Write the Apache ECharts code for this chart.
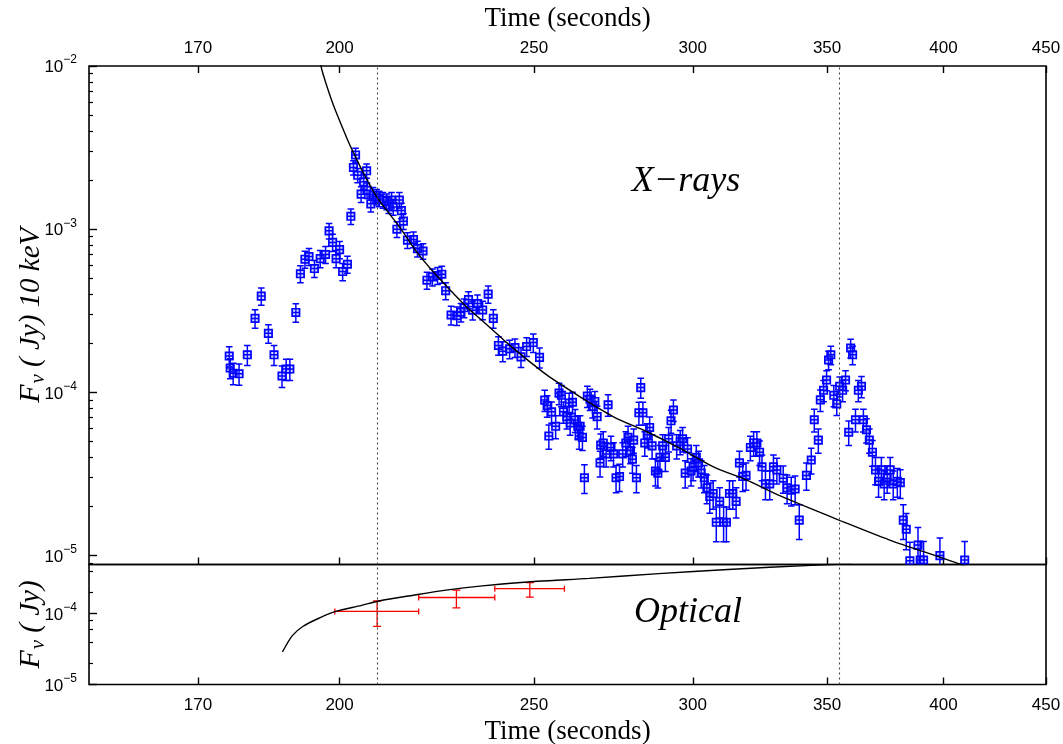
<!DOCTYPE html>
<html><head><meta charset="utf-8">
<script src="https://cdn.jsdelivr.net/npm/echarts@6/dist/echarts.min.js"></script>
<style>html,body{margin:0;padding:0;background:#fff}#c{width:1063px;height:744px}</style>
</head><body><div id="c"></div><script>
// ---------------- data ----------------
const xTickLabels = [170, 200, 250, 300, 350, 400, 450];
const xRange = [150, 450];
const xrayYRange = [8.82e-6, 1e-2];
const optYRange = [1e-5, 4.9e-4];
const xrayYLabels = [1e-5, 1e-4, 1e-3, 1e-2];
const optYLabels = [1e-5, 1e-4];
const markerTimes = [208.8, 356.8];

const xrayTime = [176.2,176.4,177.0,178.2,179.9,181.5,182.8,184.3,185.5,187.2,188.1,188.9,190.2,
191.2,192.2,193.1,194.3,195.6,196.8,197.6,198.4,199.2,200.0,200.7,201.8,
202.6,203.2,203.7,204.2,205.0,205.6,206.3,206.4,207.3,207.8,208.7,209.3,210.2,211.1,211.6,212.3,212.7,214.2,214.7,213.6,215.2,216.2,217.7,218.7,220.1,
221.1,222.5,223.8,224.9,225.9,227.3,228.8,229.9,230.7,231.9,233.0,234.3,235.7,237.2,238.6,240.0,241.2,243.1,244.6,246.3,247.9,249.8,251.6,
253.1,253.8,255.1,254.3,256.3,257.3,258.0,258.6,259.6,260.3,261.3,260.6,262.1,262.9,263.6,263.3,264.3,264.9,265.8,266.6,267.4,268.1,268.8,272.2,269.9,270.7,
269.7,271.6,273.1,273.9,274.7,275.8,276.8,277.8,278.5,279.3,279.9,280.3,281.2,282.6,282.0,283.3,283.9,284.7,285.5,286.3,287.4,288.2,288.9,289.8,290.7,
291.8,292.6,293.4,294.5,295.7,296.5,297.4,298.2,299.4,300.1,301.2,302.0,302.9,304.0,304.9,305.9,307.1,308.2,309.4,310.8,311.8,312.9,314.1,315.3,316.5,
317.7,318.9,320.5,321.7,322.9,323.9,324.8,326.1,327.7,329.1,330.4,
332.8,334.3,335.9,337.4,339.0,341.8,343.7,344.9,346.5,347.3,348.6,349.8,350.6,351.5,352.7,353.9,355.1,356.3,357.5,358.8,359.6,360.4,361.6,362.8,364.1,
364.9,366.2,367.4,368.7,370.0,371.3,372.5,373.7,375.0,376.3,377.6,379.4,380.7,382.0,383.3,384.9,388.5,389.5,391.0,398.4,409.9];
const xrayFlux = [1.67e-4,1.41e-4,1.31e-4,1.30e-4,1.70e-4,2.84e-4,3.89e-4,2.30e-4,1.70e-4,1.26e-4,1.39e-4,1.39e-4,3.09e-4,
5.33e-4,6.55e-4,6.8e-4,5.74e-4,6.6e-4,7.0e-4,9.77e-4,8.3e-4,6.6e-4,7.5e-4,5.5e-4,6.1e-4,
1.20e-3,2.39e-3,2.85e-3,2.14e-3,1.64e-3,1.95e-3,2.28e-3,1.73e-3,1.43e-3,1.62e-3,1.58e-3,1.54e-3,1.51e-3,1.48e-3,1.40e-3,1.51e-3,1.37e-3,1.51e-3,1.30e-3,1.0e-3,1.12e-3,8.57e-4,8.65e-4,7.6e-4,7.35e-4,
4.87e-4,5.1e-4,5.2e-4,5.3e-4,4.2e-4,2.98e-4,2.95e-4,3.1e-4,3.3e-4,3.7e-4,3.19e-4,3.5e-4,3.2e-4,4.0e-4,2.84e-4,1.94e-4,1.79e-4,1.85e-4,1.88e-4,1.65e-4,1.91e-4,2.02e-4,1.64e-4,
8.97e-5,8.3e-5,7.6e-5,5.4e-5,6.2e-5,9.9e-5,9.6e-5,7.6e-5,7.1e-5,8.6e-5,8.7e-5,6.5e-5,6.77e-5,6.2e-5,6.2e-5,5.4e-5,5.3e-5,3.0e-5,9.5e-5,9.1e-5,8.2e-5,8.8e-5,7.1e-5,8.4e-5,4.75e-5,4.9e-5,
3.7e-5,4.2e-5,4.6e-5,4.2e-5,3.0e-5,3.05e-5,4.2e-5,4.9e-5,5.3e-5,4.4e-5,3.9e-5,5.1e-5,3.0e-5,1.07e-4,7.5e-5,7.5e-5,4.9e-5,5.5e-5,6.1e-5,4.7e-5,3.3e-5,3.2e-5,4.0e-5,4.7e-5,4.0e-5,
5.2e-5,6.7e-5,7.8e-5,4.7e-5,5.0e-5,5.2e-5,3.2e-5,4.5e-5,3.3e-5,3.5e-5,4.0e-5,3.7e-5,3.2e-5,3.0e-5,2.6e-5,2.3e-5,2.4e-5,1.6e-5,2.15e-5,1.6e-5,1.6e-5,2.4e-5,2.4e-5,2.15e-5,3.7e-5,
3.05e-5,3.1e-5,4.6e-5,4.9e-5,4.9e-5,4.3e-5,3.5e-5,2.75e-5,2.75e-5,3.5e-5,3.35e-5,
2.98e-5,2.6e-5,2.52e-5,2.56e-5,1.65e-5,3.1e-5,3.85e-5,6.8e-5,5.1e-5,9.0e-5,1.03e-4,1.19e-4,1.58e-4,1.7e-4,9.6e-5,8.5e-5,1.09e-4,1.03e-4,1.19e-4,5.7e-5,1.87e-4,1.7e-4,6.8e-5,1.03e-4,1.09e-4,
6.8e-5,5.9e-5,5.1e-5,4.3e-5,3.35e-5,2.85e-5,3.35e-5,2.75e-5,2.98e-5,3.35e-5,2.75e-5,2.85e-5,2.8e-5,1.65e-5,1.45e-5,9.3e-6,1.16e-5,9.4e-6,9.4e-6,1.0e-5,9.4e-6];
// relative 1-sigma error, percent
const xrayErrPct = [14,14,15,15,14,13,12,13,14,15,15,15,13,
12,12,12,12,12,12,11,12,12,12,12,12,
11,10,10,10,11,10,10,11,11,11,11,11,11,11,11,11,11,11,11,11,11,11,11,11,11,
12,12,12,12,12,13,13,13,13,12,13,13,13,12,13,13,14,13,13,14,13,13,14,
15,15,15,17,16,15,15,15,16,15,15,16,16,16,16,17,17,20,15,15,15,15,16,15,17,17,
18,17,17,17,19,19,17,17,17,17,18,17,19,14,16,16,17,17,16,17,19,19,18,17,18,
17,16,15,17,17,17,19,17,19,18,18,18,19,19,20,21,20,24,21,24,24,20,20,21,18,
19,19,17,17,17,17,18,20,20,18,18,
19,20,20,20,24,19,18,16,17,15,15,14,13,13,15,15,14,15,14,17,13,13,16,15,15,
16,17,17,18,19,20,19,20,19,19,20,20,20,24,25,30,28,30,30,28,30];

const xrayModelTime = [195.5,196.2,197.8,199.1,202.0,203.2,205.5,208.7,214.4,218.5,222.7,227.1,231.4,235.9,240.5,244.2,253.7,263.6,273.9,284.6,295.7,307.2,319.2,331.7,356.6,375.8,407.7,415.0];
const xrayModelFlux = [1.07e-2,9.0e-3,6.6e-3,5.3e-3,3.45e-3,2.95e-3,2.22e-3,1.58e-3,1.02e-3,7.26e-4,5.48e-4,4.23e-4,3.34e-4,2.71e-4,2.19e-4,1.86e-4,1.28e-4,9.40e-5,7.09e-5,5.74e-5,4.54e-5,3.50e-5,2.90e-5,2.32e-5,1.61e-5,1.25e-5,8.86e-6,8.0e-6];

const optTime   = [208.8, 228.7, 248.8];
const optTimeLo = [198.9, 219.0, 239.0];
const optTimeHi = [219.0, 239.0, 258.9];
const optFlux   = [1.07e-4, 1.68e-4, 2.24e-4];
const optFluxLo = [6.6e-5, 1.20e-4, 1.70e-4];
const optFluxHi = [1.50e-4, 2.14e-4, 2.73e-4];

const optModelTime = [187.3,189.4,191.8,195.6,199.1,205.1,209.2,217.7,226.5,235.6,251.0,266.4,288.5,312.4,343.7,360.0];
const optModelFlux = [2.87e-5,4.85e-5,6.62e-5,8.75e-5,1.07e-4,1.30e-4,1.50e-4,1.81e-4,2.15e-4,2.45e-4,2.84e-4,3.12e-4,3.65e-4,4.17e-4,4.77e-4,5.0e-4];

// ---------------- build ----------------
const L = Math.log10;
const BLUE = '#0000ff', RED = '#ff0000';
const SANS = '"Liberation Sans", Arial, sans-serif';
const SERIF = '"Liberation Serif", "Times New Roman", serif';

const xrayData = xrayTime.map((t, i) => {
  const f = xrayFlux[i], e = f * xrayErrPct[i] / 100;
  return [L(t), L(f), L(f + e), L(Math.max(f - e, 1e-9))];
});
const optData = optTime.map((t, i) => [L(t), L(optFlux[i]), L(optTimeLo[i]), L(optTimeHi[i]), L(optFluxLo[i]), L(optFluxHi[i])]);
const xrayModel = xrayModelTime.map((t, i) => [L(t), L(xrayModelFlux[i])]);
const optModel = optModelTime.map((t, i) => [L(t), L(optModelFlux[i])]);

function minorValues(lo, hi, steps) {
  const out = [];
  for (let p = Math.floor(L(lo)); p <= Math.ceil(L(hi)); p++) {
    steps.forEach(k => { const v = k * Math.pow(10, p); if (v >= lo && v <= hi) out.push(L(v)); });
  }
  return out;
}

const xTickVals = xTickLabels.map(L);
const xMin = L(xRange[0]), xMax = L(xRange[1]);

function powLabel(v) {
  const p = Math.round(v);
  return '{m|10}{s|' + (p < 0 ? '\u2212' : '') + Math.abs(p) + '}';
}
const powRich = {
  m: { fontSize: 17, fontFamily: SANS, color: '#000', padding: [3, 0, 0, 0] },
  s: { fontSize: 12, fontFamily: SANS, color: '#000', padding: [0, 0, 12, 0] }
};

function xAxisBase(gridIndex, position, showLabel, margin) {
  return {
    type: 'value', gridIndex, position, min: xMin, max: xMax, nameMoveOverlap: false,
    axisLine: { show: false }, splitLine: { show: false },
    axisTick: { show: true, inside: true, length: 7, customValues: xTickVals, lineStyle: { color: '#000', width: 1.4 } },
    axisLabel: {
      show: showLabel, customValues: xTickVals, margin: margin || 9,
      formatter: v => String(Math.round(Math.pow(10, v))),
      fontSize: 17, fontFamily: SANS, color: '#000'
    }
  };
}

const xAxes = [
  Object.assign(xAxisBase(0, 'top', true, 9), {
    name: 'Time (seconds)', nameLocation: 'middle', nameGap: 34,
    nameTextStyle: { fontSize: 27, fontFamily: SERIF, color: '#000' }
  }),
  xAxisBase(0, 'bottom', false),
  Object.assign(xAxisBase(1, 'bottom', true, 12), {
    name: 'Time (seconds)', nameLocation: 'middle', nameGap: 34,
    nameTextStyle: { fontSize: 27, fontFamily: SERIF, color: '#000' }
  })
];

function yMajor(gridIndex, range, labels, name, gap) {
  const vals = labels.map(L);
  return {
    type: 'value', gridIndex, position: 'left', min: L(range[0]), max: L(range[1]),
    axisLine: { show: false }, splitLine: { show: false },
    axisTick: { show: true, inside: true, length: 8, customValues: vals, lineStyle: { color: '#000', width: 1.4 } },
    axisLabel: { show: true, customValues: vals, margin: 12, formatter: powLabel, rich: powRich },
    name, nameLocation: 'middle', nameGap: gap, nameRotate: 90, nameMoveOverlap: false,
    nameTextStyle: {
      rich: {
        F: { fontSize: 30, fontFamily: SERIF, fontStyle: 'italic', color: '#000' },
        nu: { fontSize: 21, fontFamily: SERIF, fontStyle: 'italic', color: '#000', padding: [14, 0, 0, 1] },
        t: { fontSize: 29, fontFamily: SERIF, fontStyle: 'italic', color: '#000' }
      }
    }
  };
}
function yMinor(gridIndex, range, steps) {
  const vals = minorValues(range[0], range[1], steps);
  return {
    type: 'value', gridIndex, position: 'left', min: L(range[0]), max: L(range[1]),
    axisLine: { show: false }, splitLine: { show: false }, axisLabel: { show: false },
    axisTick: { show: true, inside: true, length: 4, customValues: vals, lineStyle: { color: '#000', width: 1.2 } }
  };
}

const yAxes = [
  yMajor(0, xrayYRange, xrayYLabels, '{F|F}{nu|\u03bd}{t| ( Jy) 10 keV}', 40),
  yMinor(0, xrayYRange, [2, 3, 4, 5, 6, 7, 8, 9]),
  yMajor(1, optYRange, optYLabels, '{F|F}{nu|\u03bd}{t| ( Jy)}', 40),
  yMinor(1, optYRange, [2, 4, 6, 8])
];

const markLine = {
  silent: true, symbol: ['none', 'none'], animation: false,
  label: { show: false },
  lineStyle: { type: [2, 3], color: '#444', width: 1.1 },
  data: markerTimes.map(t => ({ xAxis: L(t) }))
};

function renderXray(params, api) {
  const x = api.value(0);
  const c = api.coord([x, api.value(1)]);
  const ch = api.coord([x, api.value(2)]);
  const cl = api.coord([x, api.value(3)]);
  const s = 3.7, cap = 3.3;
  const st = { stroke: BLUE, lineWidth: 1.5, fill: null };
  return {
    type: 'group', children: [
      { type: 'line', shape: { x1: c[0], y1: cl[1], x2: c[0], y2: ch[1] }, style: st },
      { type: 'line', shape: { x1: c[0] - cap, y1: ch[1], x2: c[0] + cap, y2: ch[1] }, style: st },
      { type: 'line', shape: { x1: c[0] - cap, y1: cl[1], x2: c[0] + cap, y2: cl[1] }, style: st },
      { type: 'rect', shape: { x: c[0] - s, y: c[1] - s, width: 2 * s, height: 2 * s }, style: { stroke: BLUE, lineWidth: 1.7, fill: 'rgba(90,90,255,0.25)' } },
      { type: 'line', shape: { x1: c[0] - s, y1: c[1], x2: c[0] + s, y2: c[1] }, style: st }
    ]
  };
}
function renderOpt(params, api) {
  const y = api.value(1), x = api.value(0);
  const c = api.coord([x, y]);
  const xl = api.coord([api.value(2), y]), xh = api.coord([api.value(3), y]);
  const yl = api.coord([x, api.value(4)]), yh = api.coord([x, api.value(5)]);
  const st = { stroke: RED, lineWidth: 1.3, fill: null };
  const cx = 3, cy = 4;
  return {
    type: 'group', children: [
      { type: 'line', shape: { x1: xl[0], y1: c[1], x2: xh[0], y2: c[1] }, style: st },
      { type: 'line', shape: { x1: xl[0], y1: c[1] - cx, x2: xl[0], y2: c[1] + cx }, style: st },
      { type: 'line', shape: { x1: xh[0], y1: c[1] - cx, x2: xh[0], y2: c[1] + cx }, style: st },
      { type: 'line', shape: { x1: c[0], y1: yl[1], x2: c[0], y2: yh[1] }, style: st },
      { type: 'line', shape: { x1: c[0] - cy, y1: yl[1], x2: c[0] + cy, y2: yl[1] }, style: st },
      { type: 'line', shape: { x1: c[0] - cy, y1: yh[1], x2: c[0] + cy, y2: yh[1] }, style: st }
    ]
  };
}

const option = {
  animation: false,
  backgroundColor: '#fff',
  grid: [
    { left: 89, top: 66, width: 957, height: 498.5, show: true, borderColor: '#000', borderWidth: 1.6, backgroundColor: 'transparent', containLabel: false, outerBoundsMode: 'none' },
    { left: 89, top: 564.5, width: 957, height: 120, show: true, borderColor: '#000', borderWidth: 1.6, backgroundColor: 'transparent', containLabel: false, outerBoundsMode: 'none' }
  ],
  xAxis: xAxes,
  yAxis: yAxes,
  graphic: [
    { type: 'text', x: 686, y: 182, style: { text: 'X\u2212rays', font: 'italic 36px "Liberation Serif"', fill: '#000', textAlign: 'center', textVerticalAlign: 'middle' } },
    { type: 'text', x: 688, y: 613, style: { text: 'Optical', font: 'italic 36px "Liberation Serif"', fill: '#000', textAlign: 'center', textVerticalAlign: 'middle' } }
  ],
  series: [
    {
      type: 'line', name: 'X-ray model', xAxisIndex: 0, yAxisIndex: 0, data: xrayModel,
      showSymbol: false, smooth: 0.3, clip: true, lineStyle: { color: '#000', width: 1.4 }, markLine, z: 3
    },
    {
      type: 'custom', name: 'X-rays', xAxisIndex: 0, yAxisIndex: 0, data: xrayData,
      renderItem: renderXray, clip: true, encode: { x: 0, y: 1 }, z: 2
    },
    {
      type: 'line', name: 'Optical model', xAxisIndex: 2, yAxisIndex: 2, data: optModel,
      showSymbol: false, smooth: 0.3, clip: true, lineStyle: { color: '#000', width: 1.4 }, markLine, z: 3
    },
    {
      type: 'custom', name: 'Optical', xAxisIndex: 2, yAxisIndex: 2, data: optData,
      renderItem: renderOpt, clip: true, encode: { x: 0, y: 1 }, z: 2
    }
  ]
};

const chart = echarts.init(document.getElementById('c'), null, { renderer: 'canvas' });
chart.setOption(option);
</script></body></html>
